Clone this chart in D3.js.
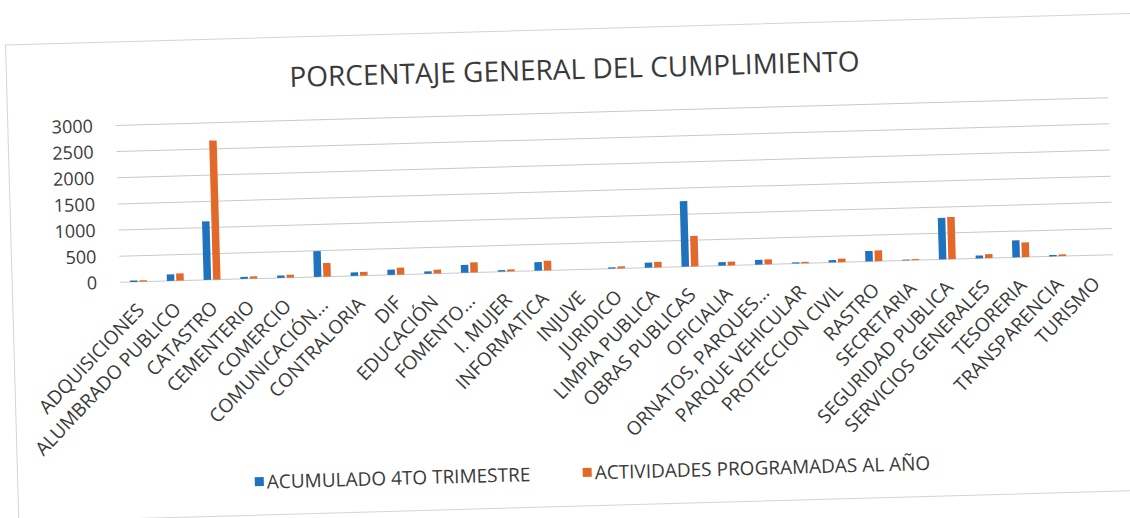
<!DOCTYPE html>
<html>
<head>
<meta charset="utf-8">
<script src="https://cdn.jsdelivr.net/npm/d3@7"></script>
<style>
  body { margin: 0; background: #fff; }
  text { font-family: "Open Sans", sans-serif; fill: #3a3a3a; }
</style>
</head>
<body>
<script>
const width = 1130, height = 518;

const categories = ["ADQUISICIONES", "ALUMBRADO PUBLICO", "CATASTRO", "CEMENTERIO", "COMERCIO",
  "COMUNICACIÓN...", "CONTRALORIA", "DIF", "EDUCACIÓN", "FOMENTO...", "I. MUJER", "INFORMATICA",
  "INJUVE", "JURIDICO", "LIMPIA PUBLICA", "OBRAS PUBLICAS", "OFICIALIA", "ORNATOS, PARQUES...",
  "PARQUE VEHICULAR", "PROTECCION CIVIL", "RASTRO", "SECRETARIA", "SEGURIDAD PUBLICA",
  "SERVICIOS GENERALES", "TESORERIA", "TRANSPARENCIA", "TURISMO"];

const acumulado = [28, 125, 1120, 40, 45, 490, 65, 100, 45, 150, 30, 165, 0, 25, 95, 1250,
  65, 90, 20, 45, 200, 15, 795, 55, 325, 25, 0];
const programadas = [28, 140, 2660, 45, 55, 260, 70, 130, 75, 195, 40, 185, 0, 40, 105, 580,
  70, 92, 25, 70, 205, 20, 805, 75, 280, 30, 0];

const seriesNames = ["ACUMULADO 4TO TRIMESTRE", "ACTIVIDADES PROGRAMADAS AL AÑO"];
const seriesColors = ["#1f72be", "#e2692a"];
const yTicks = [0, 500, 1000, 1500, 2000, 2500, 3000];

const svg = d3.select("body").append("svg")
  .attr("width", width)
  .attr("height", height);

// the scanned page is slightly tilted
const chart = svg.append("g")
  .attr("transform", "rotate(-1.6, 616.5, 268.5)");

chart.append("rect")
  .attr("x", 12).attr("y", 28)
  .attr("width", 1140).attr("height", 477)
  .attr("fill", "none")
  .attr("stroke", "#d4d4d4");

const x0 = d3.scaleBand()
  .domain(categories)
  .range([120, 1113])
  .paddingInner(0.54)
  .paddingOuter(0.27);

const x1 = d3.scaleBand()
  .domain([0, 1])
  .range([0, x0.bandwidth()])
  .paddingInner(0.2);

const y = d3.scaleLinear()
  .domain([0, 3000])
  .range([268.5, 111.5]);

chart.append("g")
  .selectAll("line")
  .data(yTicks)
  .enter().append("line")
  .attr("x1", 120).attr("x2", 1113)
  .attr("y1", d => y(d)).attr("y2", d => y(d))
  .attr("stroke", "#c9c9c9")
  .attr("stroke-width", 1);

chart.append("g")
  .selectAll("text")
  .data(yTicks)
  .enter().append("text")
  .attr("x", 97)
  .attr("y", d => y(d))
  .attr("dy", "0.35em")
  .style("text-anchor", "end")
  .style("font-size", "18px")
  .text(d => d);

const series = [acumulado, programadas];

series.forEach((values, s) => {
  chart.append("g")
    .selectAll("rect")
    .data(values)
    .enter().append("rect")
    .attr("x", (d, i) => x0(categories[i]) + x1(s))
    .attr("y", d => y(d))
    .attr("width", x1.bandwidth())
    .attr("height", d => y(0) - y(d))
    .attr("fill", seriesColors[s]);
});

chart.append("g")
  .selectAll("text")
  .data(categories)
  .enter().append("text")
  .attr("transform", d => `translate(${x0(d) + x0.bandwidth() / 2 + 6}, ${y(0) + 29.5}) rotate(-45)`)
  .style("text-anchor", "end")
  .style("font-size", "19px")
  .text(d => d);

chart.append("text")
  .attr("x", 580)
  .attr("y", 78)
  .style("text-anchor", "middle")
  .style("font-size", "28px")
  .text("PORCENTAJE GENERAL DEL CUMPLIMIENTO");

const legendX = [249, 577];
seriesNames.forEach((name, i) => {
  chart.append("rect")
    .attr("x", legendX[i])
    .attr("y", 467)
    .attr("width", 9)
    .attr("height", 9)
    .attr("fill", seriesColors[i]);
  chart.append("text")
    .attr("x", legendX[i] + 12)
    .attr("y", 472)
    .attr("dy", "0.35em")
    .style("font-size", "19px")
    .text(name);
});
</script>
</body>
</html>
